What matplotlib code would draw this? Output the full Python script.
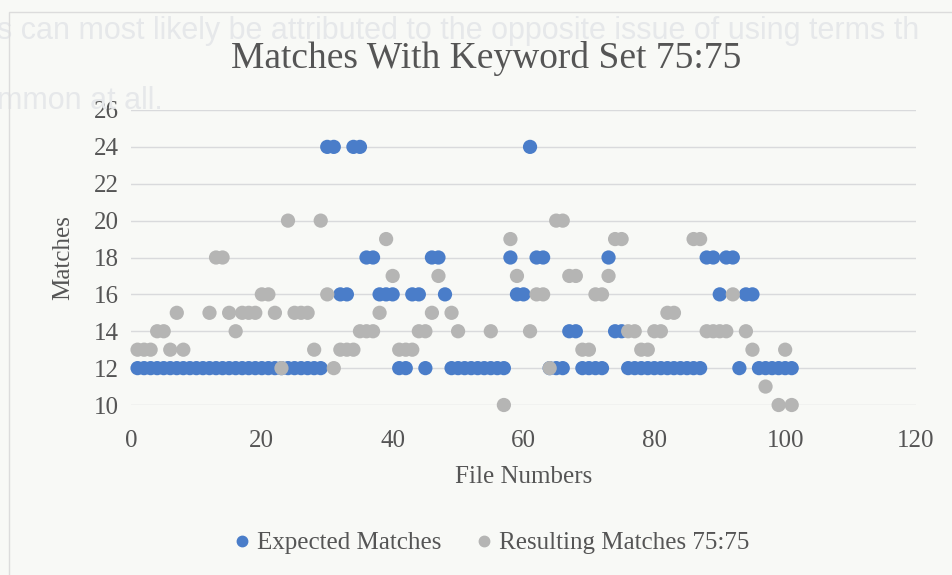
import numpy as np
import matplotlib
matplotlib.use("Agg")
import matplotlib.pyplot as plt
from matplotlib.lines import Line2D
from matplotlib.patches import Rectangle

nan = np.nan

# file numbers 1..101
file_numbers = list(range(1, 102))

expected_matches = (
    [12] * 29 + [24, 24, 16, 16, 24, 24, 18, 18, 16, 16, 16, 12, 12, 16, 16, 12, 18, 18, 16]
    + [12] * 9 + [18, 16, 16, 24, 18, 18, 12, 12, 12, 14, 14, 12, 12, 12, 12, 18, 14, 14]
    + [12] * 12 + [18, 18, 16, 18, 18, 12, 16, 16] + [12] * 6
)

resulting_matches = [
    13, 13, 13, 14, 14, 13, 15, 13, nan, nan,
    nan, 15, 18, 18, 15, 14, 15, 15, 15, 16,
    16, 15, 12, 20, 15, 15, 15, 13, 20, 16,
    12, 13, 13, 13, 14, 14, 14, 15, 19, 17,
    13, 13, 13, 14, 14, 15, 17, nan, 15, 14,
    nan, nan, nan, nan, 14, nan, 10, 19, 17, nan,
    14, 16, 16, 12, 20, 20, 17, 17, 13, 13,
    16, 16, 17, 19, 19, 14, 14, 13, 13, 14,
    14, 15, 15, nan, nan, 19, 19, 14, 14, 14,
    14, 16, nan, 14, 13, nan, 11, nan, 10, 13,
    10,
]

y_ticks = [10, 12, 14, 16, 18, 20, 22, 24, 26]
x_ticks = [0, 20, 40, 60, 80, 100, 120]

blue = "#4a7dc9"
grey = "#b5b5b4"
text_col = "#555555"
bg = "#f8f9f6"
serif = ["Liberation Serif", "DejaVu Serif"]

fig = plt.figure(figsize=(9.53, 5.75), dpi=100, facecolor=bg)

# faint text showing through from the other side of the scanned page
fig.text(-0.003, 1 - 31 / 575, "s can most likely be attributed to the opposite issue of using terms th",
         fontsize=22, color="#e6e8ea", family="Liberation Sans", va="center", ha="left", zorder=0)
fig.text(-0.003, 1 - 101 / 575, "mmon at all.", fontsize=22, color="#e6e8ea",
         family="Liberation Sans", va="center", ha="left", zorder=0)

# chart border
fig.patches.append(Rectangle((9 / 953, -0.01), 1.0, 1 - 12 / 575 + 0.01, transform=fig.transFigure,
                             fill=False, edgecolor="#dcdcdc", linewidth=1.0))

ax = fig.add_axes([131 / 953, 1 - 405 / 575, 785 / 953, 295 / 575])
ax.set_facecolor("none")

ax.scatter(file_numbers, expected_matches, s=105, color=blue, edgecolors="none",
           clip_on=False, zorder=3)
ax.scatter(file_numbers, resulting_matches, s=105, color=grey, edgecolors="none",
           clip_on=False, zorder=4)

ax.set_xlim(0, 120)
ax.set_ylim(10, 26)
ax.set_xticks(x_ticks)
ax.set_yticks(y_ticks)
ax.yaxis.grid(True, color="#d9dadc", linewidth=1.0)
ax.set_axisbelow(True)
for s in ax.spines.values():
    s.set_visible(False)
ax.tick_params(length=0, labelsize=18, labelcolor=text_col)
ax.tick_params(axis="x", pad=18)
ax.tick_params(axis="y", pad=9)
for lbl in ax.get_xticklabels() + ax.get_yticklabels():
    lbl.set_family(serif)

fig.text(486 / 953, 1 - 58 / 575, "Matches With Keyword Set 75:75", fontsize=27, color=text_col,
         family=serif, ha="center", va="center")
ax.set_xlabel("File Numbers", fontsize=18, color=text_col, family=serif, labelpad=10)
ax.set_ylabel("Matches", fontsize=18, color=text_col, family=serif, labelpad=14)

handles = [
    Line2D([], [], marker="o", linestyle="none", markersize=7.5, color=blue, label="Expected Matches"),
    Line2D([], [], marker="o", linestyle="none", markersize=7.5, color=grey, label="Resulting Matches 75:75"),
]
fig.legend(handles=handles, loc="center", bbox_to_anchor=(492 / 953, 1 - 543 / 575), ncol=2,
           frameon=False, prop={"family": serif, "size": 18}, labelcolor=text_col,
           handlelength=0.6, handletextpad=0.3, columnspacing=1.4)

fig.savefig("out.png", dpi=100, facecolor=bg)
